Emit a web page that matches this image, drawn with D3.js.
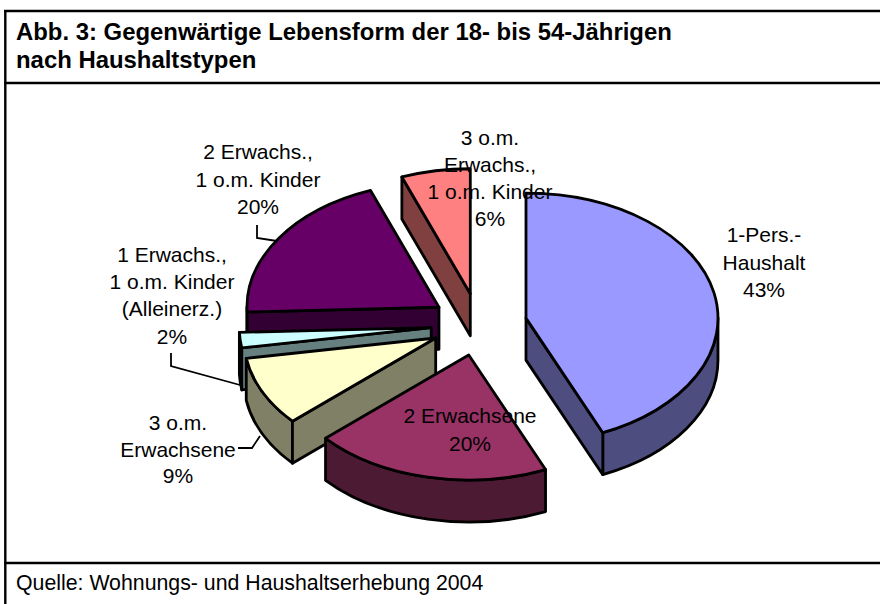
<!DOCTYPE html>
<html><head><meta charset="utf-8">
<script src="https://cdn.jsdelivr.net/npm/d3@7/dist/d3.min.js"></script>
<style>html,body{margin:0;padding:0;background:#fff}svg{display:block}text{font-family:"Liberation Sans",Arial,sans-serif;fill:#000}</style>
</head><body><svg id="c" width="880" height="604"></svg>
<script>
const titleLines = ["Abb. 3: Gegenwärtige Lebensform der 18- bis 54-Jährigen", "nach Haushaltstypen"];
const sourceText = "Quelle: Wohnungs- und Haushaltserhebung 2004";
const categories = [["1-Pers.-","Haushalt"],["2 Erwachsene"],["3 o.m.","Erwachsene"],["1 Erwachs.,","1 o.m. Kinder","(Alleinerz.)"],["2 Erwachs.,","1 o.m. Kinder"],["3 o.m.","Erwachs.,","1 o.m. Kinder"]];
const values = [43.45, 19.95, 9.0, 2.0, 19.8, 5.8];
const faceColors = ["#9999ff","#993366","#ffffcc","#ccffff","#660066","#ff8080"];
const sideColors = ["#4d4d80","#4d1a33","#808066","#668080","#330033","#804040"];

// layout (not data)
const cx = 479, cy = 324.5, rx = 192, ry = 125, depth = 42, explode = 0.25;
const labelCenters = [[764,242],[470,423],[178,430],[172,262],[258,159],[490,144.5]];
const leaders = [null,null,[[238,448],[252,448],[260,436]],[[171,353],[171,366],[240,385]],[[257,225],[257,238],[277,241]],null];
const lineHeights = [27.5,27.5,26.5,27.2,27.5,27];
const labelSize = 21;

const svg = d3.select("#c");
const fmt = d3.format(".0f");
const total = d3.sum(values);
const pie = d3.pie().sort(null).value(d => d)(values);
const drawOrder = [5,4,3,2,1,0];
const pt = (a, ox, oy, dy=0) => [ox + rx*Math.sin(a), oy - ry*Math.cos(a) + dy];

function arcSeg(a0, a1, ox, oy, dy, sweep) {
  const p = pt(a1, ox, oy, dy);
  const large = Math.abs(a1-a0) > Math.PI ? 1 : 0;
  return `A${rx},${ry} 0 ${large} ${sweep} ${p[0]},${p[1]}`;
}
const M = p => `M${p[0]},${p[1]}`, L = p => `L${p[0]},${p[1]}`;

const g = svg.append("g").attr("stroke","#000").attr("stroke-width",2.8).attr("stroke-linejoin","round");
drawOrder.forEach(i => {
  const d = pie[i], a0 = d.startAngle, a1 = d.endAngle, mid = (a0+a1)/2;
  const ox = cx + explode*rx*Math.sin(mid), oy = cy - explode*ry*Math.cos(mid);
  const apex = [ox, oy], apexB = [ox, oy+depth];
  const side = sideColors[i];
  const w0 = Math.max(a0, Math.PI/2), w1 = Math.min(a1, 3*Math.PI/2);
  if (w1 > w0) {
    g.append("path").attr("fill", side).attr("d",
      M(pt(w0,ox,oy)) + arcSeg(w0,w1,ox,oy,0,1) + L(pt(w1,ox,oy,depth)) + arcSeg(w1,w0,ox,oy,depth,0) + "Z");
  }
  if (a0 > Math.PI) g.append("path").attr("fill", side).attr("d",
      M(apex)+L(pt(a0,ox,oy))+L(pt(a0,ox,oy,depth))+L(apexB)+"Z");
  if (a1 < Math.PI) g.append("path").attr("fill", side).attr("d",
      M(apex)+L(pt(a1,ox,oy))+L(pt(a1,ox,oy,depth))+L(apexB)+"Z");
  g.append("path").attr("fill", faceColors[i]).attr("d",
      M(apex)+L(pt(a0,ox,oy))+arcSeg(a0,a1,ox,oy,0,1)+"Z");
});

const frame = svg.append("g").attr("stroke","#000").attr("stroke-width",2.4);
[[4,11,880,11],[4,83,880,83],[4,563,880,563],[5.3,10,5.3,604]].forEach(l =>
  frame.append("line").attr("x1",l[0]).attr("y1",l[1]).attr("x2",l[2]).attr("y2",l[3]));

const lineGen = d3.line();
leaders.forEach(l => { if (l) svg.append("path").attr("d",lineGen(l)).attr("fill","none").attr("stroke","#000").attr("stroke-width",1.8); });

categories.forEach((c,i) => {
  const lines = c.concat(fmt(values[i]/total*100) + "%");
  const t = svg.append("text").attr("text-anchor","middle").attr("font-size",labelSize);
  lines.forEach((s,k) => t.append("tspan").attr("x",labelCenters[i][0]).attr("y",labelCenters[i][1]+k*lineHeights[i]).text(s));
});

titleLines.forEach((s,k) => svg.append("text").attr("x",16).attr("y",40+k*27.5).attr("font-size",23.9).attr("font-weight","bold").text(s));
svg.append("text").attr("x",16).attr("y",590).attr("font-size",21.3).text(sourceText);
</script></body></html>
